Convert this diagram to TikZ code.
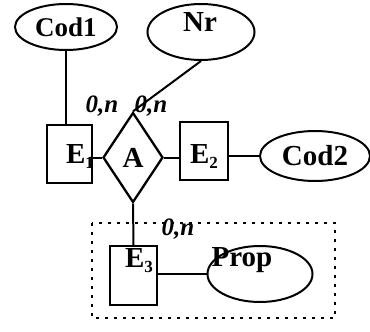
\documentclass[tikz,border=0pt]{standalone}
\usepackage{fontspec}
\setmainfont{Liberation Serif}
\usetikzlibrary{shapes.geometric}
\newcommand{\ersub}[1]{\raisebox{-5pt}{\fontsize{17}{17}\selectfont #1}}
\begin{document}
\begin{tikzpicture}[x=1pt,y=-1pt,
  every node/.style={font=\fontsize{27}{30}\selectfont\bfseries},
  big/.style={font=\fontsize{29}{32}\selectfont\bfseries},
  attr/.style={draw,ellipse,line width=2pt,inner sep=0pt},
  ent/.style={draw,rectangle,line width=2.3pt,inner sep=0pt},
  rel/.style={draw,diamond,line width=2.3pt,inner sep=0pt,minimum width=60pt,minimum height=90pt},
  card/.style={font=\fontsize{25}{28}\selectfont\bfseries\itshape,inner sep=0pt},
  conn/.style={line width=2pt},
  lbl/.style={inner sep=0pt}]
\useasboundingbox (0,0) rectangle (370,332);
% dashed aggregation box
\draw[line width=2pt,dash pattern=on 3pt off 6pt] (92,223) rectangle (335,318);
% attributes
\node[attr,minimum width=102pt,minimum height=46pt] (cod1) at (66,27) {Cod1};
\node[attr,minimum width=107pt,minimum height=56pt] (nr) at (201,32) {};
\node[lbl,big] (nrt) at (200,22) {Nr};
\node[attr,minimum width=110pt,minimum height=50pt,big] (cod2) at (315,156) {Cod2};
\node[attr,minimum width=105pt,minimum height=56pt] (prop) at (260,274) {};
\node[lbl,big] (propt) at (242,260) {Prop};
% entities
\node[ent,minimum width=45pt,minimum height=58pt] (e1) at (69.5,154) {};
\node[lbl,big] (e1t) at (80,157) {E\ersub{1}};
\node[ent,minimum width=48pt,minimum height=58pt] (e2) at (204,151) {};
\node[lbl,big] (e2t) at (204,157) {E\ersub{2}};
\node[ent,minimum width=47pt,minimum height=59pt] (e3) at (133.5,275.5) {};
\node[lbl,big] (e3t) at (139,261) {E\ersub{3}};
% relationship
\node[rel,big] (a) at (133,157.5) {A};
% connectors
\draw[conn] (cod1.south) -- (e1.north -| cod1.south);
\draw[conn] (nr.south) -- (a.north);
\draw[conn] (e1.east |- a.west) -- (a.west);
\draw[conn] (a.east) -- (e2.west |- a.east);
\draw[conn] (e2.east |- cod2.west) -- (cod2.west);
\draw[conn] (a.south) -- (e3.north);
\draw[conn] (e3.east |- prop.west) -- (prop.west);
% cardinalities
\node[card] (c1) at (102,106) {0,n};
\node[card] (c2) at (151,106) {0,n};
\node[card] (c3) at (178,229) {0,n};
\end{tikzpicture}
\end{document}
